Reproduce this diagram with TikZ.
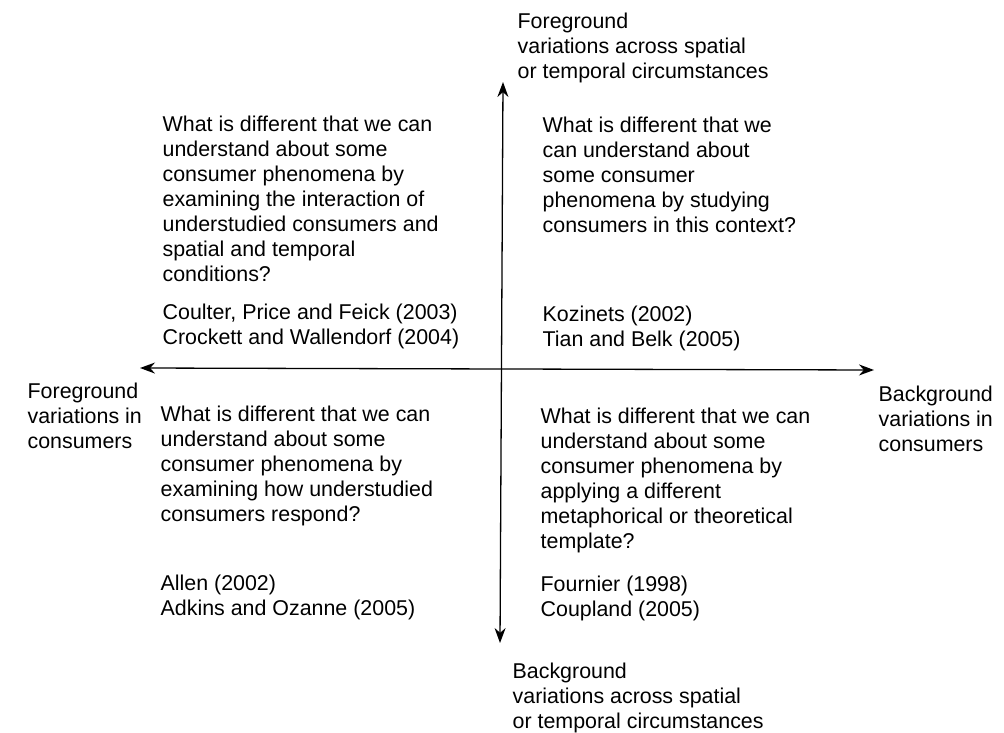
\documentclass[tikz,border=0pt]{standalone}
\usepackage{fontspec}
\setmainfont{Liberation Sans}
\usepackage{tikz}
\usetikzlibrary{arrows.meta}

\begin{document}
\begin{tikzpicture}[x=1pt,y=-1pt,>={Stealth[length=15pt,width=11pt]},
                    line width=1.3pt,
                    quad text/.style={align=left,anchor=north west,inner sep=0pt,
                                      font=\fontsize{21.4}{25}\selectfont}]

  \useasboundingbox (0,0) rectangle (1004,733);

  % axes
  \coordinate (top) at (503,82);
  \coordinate (bottom) at (500,643);
  \coordinate (left) at (140,368);
  \coordinate (right) at (874,370);

  \draw[<->] (left) -- (right);
  \draw[<->] (bottom) -- (top);

  % axis labels
  \node[quad text] (fg space) at (517,12) {Foreground\\variations across spatial\\or temporal circumstances};
  \node[quad text] (bg space) at (512,662) {Background\\variations across spatial\\or temporal circumstances};
  \node[quad text] (fg cons) at (27,382) {Foreground\\variations in\\consumers};
  \node[quad text] (bg cons) at (878,385) {Background\\variations in\\consumers};

  % quadrants
  \node[quad text] (tl) at (162,115) {What is different that we can\\understand about some\\consumer phenomena by\\examining the interaction of\\understudied consumers and\\spatial and temporal\\conditions?};
  \node[quad text] (tl cite) at (162,303) {Coulter, Price and Feick (2003)\\Crockett and Wallendorf (2004)};

  \node[quad text] (tr) at (542,116) {What is different that we\\can understand about\\some consumer\\phenomena by studying\\consumers in this context?};
  \node[quad text] (tr cite) at (542,305) {Kozinets (2002)\\Tian and Belk (2005)};

  \node[quad text] (bl) at (160,405) {What is different that we can\\understand about some\\consumer phenomena by\\examining how understudied\\consumers respond?};
  \node[quad text] (bl cite) at (160,574) {Allen (2002)\\Adkins and Ozanne (2005)};

  \node[quad text] (br) at (540,407) {What is different that we can\\understand about some\\consumer phenomena by\\applying a different\\metaphorical or theoretical\\template?};
  \node[quad text] (br cite) at (540,575) {Fournier (1998)\\Coupland (2005)};

\end{tikzpicture}
\end{document}
